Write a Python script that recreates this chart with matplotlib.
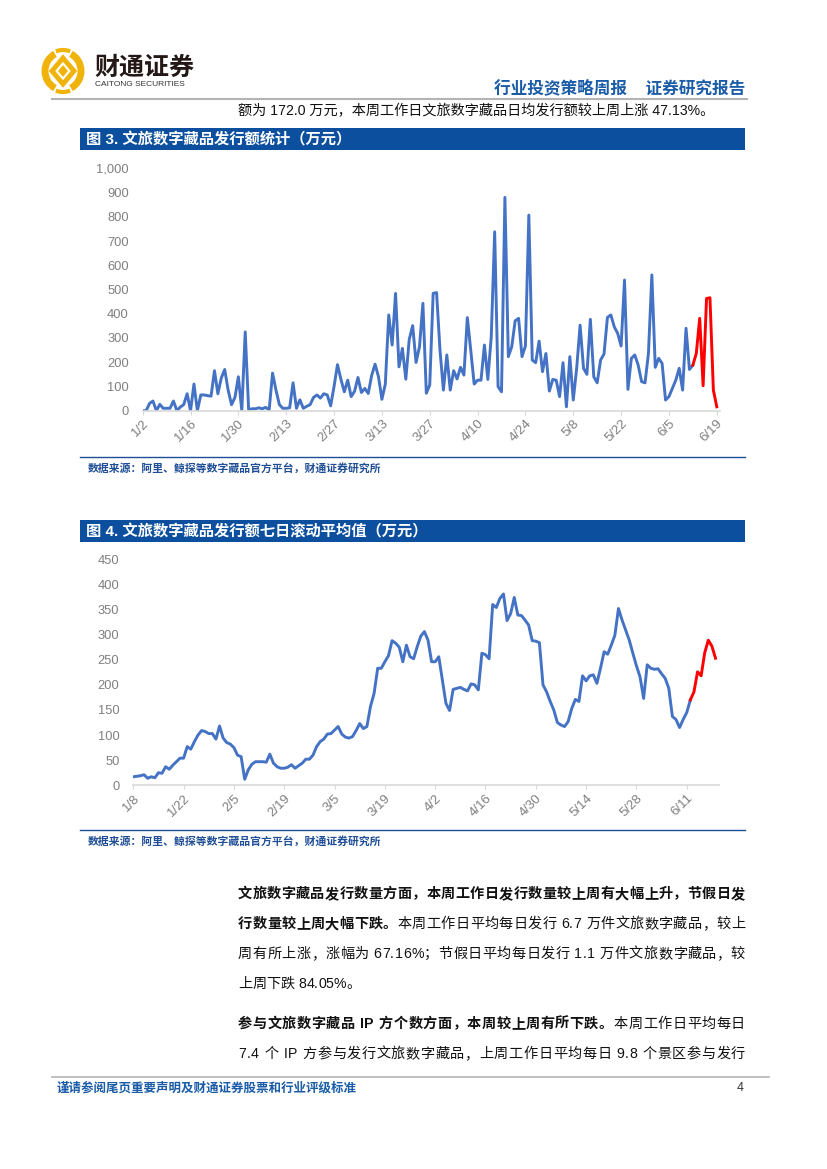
import numpy as np
import matplotlib
matplotlib.use('Agg')
import matplotlib.pyplot as plt
from matplotlib.patches import Rectangle, Arc, Polygon

plt.rcParams['font.family'] = ['Liberation Sans', 'Noto Sans CJK SC', 'DejaVu Sans']

# ------------------------------------------------------------
# Daten
# ------------------------------------------------------------
# Abb. 3: tägliches Emissionsvolumen (万元), 1/2 .. 6/19
issue = [0, 0, 30, 40, 0, 26, 10, 10, 10, 40,
         0, 15, 25, 70, 0, 110, 0, 65, 65, 62,
         60, 165, 70, 135, 170, 85, 25, 55, 140, 0,
         325, 5, 8, 8, 12, 8, 14, 2, 155, 85,
         25, 10, 10, 12, 115, 10, 45, 10, 18, 25,
         55, 65, 52, 70, 65, 20, 100, 190, 130, 78,
         126, 58, 80, 137, 75, 92, 71, 145, 192, 140,
         47, 110, 395, 271, 484, 181, 257, 130, 294, 351,
         199, 264, 443, 72, 106, 484, 487, 250, 85, 230,
         85, 165, 131, 179, 147, 384, 250, 110, 126, 126,
         271, 129, 305, 738, 99, 78, 880, 223, 264, 371,
         381, 223, 267, 807, 209, 198, 287, 161, 236, 81,
         129, 126, 58, 198, 16, 223, 44, 175, 353, 175,
         150, 377, 140, 115, 209, 234, 385, 395, 346, 319,
         267, 539, 88, 216, 230, 188, 120, 115, 236, 560,
         179, 216, 195, 44, 58, 92, 126, 175, 85, 340,
         170, 188, 236, 381, 103, 463, 466, 85, 16]
issue_week_start = 161          # ab 6/12 rot
issue_ticks = ['1/2', '1/16', '1/30', '2/13', '2/27', '3/13', '3/27',
               '4/10', '4/24', '5/8', '5/22', '6/5', '6/19']

# Abb. 4: 7-Tage gleitender Durchschnitt (万元), 1/8 .. 6/19
ma7 = [17, 18, 19, 21, 14, 17, 15, 25, 24, 37,
       32, 40, 47, 54, 54, 77, 72, 87, 100, 109,
       107, 103, 103, 92, 118, 94, 85, 82, 75, 60,
       57, 12, 31, 42, 47, 47, 47, 46, 62, 44,
       37, 34, 34, 36, 41, 34, 39, 44, 52, 52,
       60, 77, 87, 92, 102, 103, 110, 117, 102, 96,
       94, 97, 109, 123, 113, 117, 157, 183, 233, 233,
       246, 258, 288, 283, 275, 246, 279, 256, 252, 276,
       297, 306, 289, 246, 246, 256, 210, 163, 149, 191,
       193, 195, 191, 188, 202, 200, 190, 263, 260, 252,
       360, 354, 372, 381, 328, 342, 374, 339, 338, 329,
       319, 288, 287, 284, 200, 186, 167, 150, 125, 120,
       117, 127, 153, 171, 167, 218, 208, 218, 220, 203,
       233, 266, 261, 279, 299, 352, 329, 309, 289, 263,
       238, 216, 173, 240, 233, 231, 232, 222, 213, 193,
       137, 131, 115, 131, 145, 170, 186, 226, 218, 264,
       289, 277, 253]
ma7_week_start = 155
ma7_ticks = ['1/8', '1/22', '2/5', '2/19', '3/5', '3/19', '4/2',
             '4/16', '4/30', '5/14', '5/28', '6/11']

# ------------------------------------------------------------
# Seite
# ------------------------------------------------------------
W, H = 827, 1169
BLUE = '#4472C4'
BAR = '#0B4F9E'
NAVY = '#1F4E96'
GREY = '#7F7F7F'
TXT = 10.2

fig = plt.figure(figsize=(W / 100, H / 100), dpi=100)
ax0 = fig.add_axes([0, 0, 1, 1])
ax0.set_xlim(0, W)
ax0.set_ylim(H, 0)
ax0.axis('off')
r = fig.canvas.get_renderer()
inv = ax0.transData.inverted()


def box(x0, y0, x1, y1):
    return [x0 / W, 1 - y1 / H, (x1 - x0) / W, (y1 - y0) / H]


def char_w(ch, wt, size):
    if ch == ' ':
        return size * 100 / 72 * 0.28
    t = ax0.text(0, 0, ch, fontsize=size, fontweight=wt)
    bb = t.get_window_extent(renderer=r)
    t.remove()
    return bb.width


def line(x, y, parts, right=None, size=TXT):
    chars = [(c, wt) for txt, wt in parts for c in txt]
    ws = [char_w(c, wt, size) for c, wt in chars]
    gap = 0
    if right is not None and len(chars) > 1:
        gap = (right - x - sum(ws)) / (len(chars) - 1)
    for (c, wt), w in zip(chars, ws):
        if c != ' ':
            ax0.text(x, y, c, fontsize=size, fontweight=wt, va='center',
                     ha='left', color='#111111')
        x += w + gap


# Logo
gold = '#F0B30A'
cx, cy = 63, 71
ax0.add_patch(Arc((cx, cy), 36, 38, theta1=115, theta2=245, lw=5, color=gold))
ax0.add_patch(Arc((cx, cy), 36, 38, theta1=-65, theta2=65, lw=5, color=gold))
ax0.add_patch(Arc((cx, cy), 40, 42, theta1=70, theta2=110, lw=3, color=gold))
ax0.add_patch(Arc((cx, cy), 40, 42, theta1=250, theta2=290, lw=3, color=gold))
ax0.add_patch(Polygon([(cx, cy - 13), (cx + 11, cy), (cx, cy + 13), (cx - 11, cy)],
                      closed=True, fill=False, ec=gold, lw=3.5))
ax0.add_patch(Polygon([(cx, cy - 5), (cx + 4, cy), (cx, cy + 5), (cx - 4, cy)],
                      closed=True, fc=gold, ec=gold))
ax0.text(94, 68, '财通证券', fontsize=18, fontweight='bold', color='#231815',
         va='center', ha='left')
ax0.text(95, 84, 'CAITONG SECURITIES', fontsize=6, color='#333333',
         va='center', ha='left')

# Kopfzeile
ax0.text(745, 88, '行业投资策略周报    证券研究报告', fontsize=12, fontweight='bold',
         color='#1A5CA8', ha='right', va='center')
ax0.plot([52, 747], [99, 99], color='#B4B4B4', lw=1.5)

ax0.text(238, 111, '额为 172.0 万元，本周工作日文旅数字藏品日均发行额较上周上涨 47.13%。',
         fontsize=TXT, color='#111111', va='center', ha='left')

# Titelbalken + Quellen
for y0, title in [(128, '图 3. 文旅数字藏品发行额统计（万元）'),
                  (520, '图 4. 文旅数字藏品发行额七日滚动平均值（万元）')]:
    ax0.add_patch(Rectangle((80, y0), 665, 22, color=BAR, lw=0))
    ax0.text(86, y0 + 11.5, title, fontsize=11, fontweight='bold',
             color='white', va='center', ha='left')
for yl in [457, 830]:
    ax0.plot([80, 745], [yl, yl], color=NAVY, lw=1)
    ax0.text(88, yl + 11, '数据来源：阿里、鲸探等数字藏品官方平台，财通证券研究所',
             fontsize=7.8, fontweight='bold', color=NAVY, va='center', ha='left')


# ------------------------------------------------------------
# Diagramme
# ------------------------------------------------------------
def style(ax, ticks, labels):
    for s in ['top', 'right', 'left']:
        ax.spines[s].set_visible(False)
    ax.spines['bottom'].set_color('#D9D9D9')
    ax.spines['bottom'].set_linewidth(1.2)
    ax.patch.set_alpha(0)
    ax.set_xticks(ticks)
    ax.set_xticklabels(labels)
    ax.tick_params(axis='x', length=3, color='#D9D9D9', labelsize=9.5,
                   labelcolor=GREY, pad=2)
    ax.tick_params(axis='y', length=0, labelsize=9.3, labelcolor=GREY, pad=10)
    plt.setp(ax.get_xticklabels(), rotation=45, ha='right', rotation_mode='anchor')


# Abb. 3
ax1 = fig.add_axes(box(142.7, 168.3, 720.2, 410.7))
x1 = np.arange(len(issue))
k = issue_week_start
ax1.plot(x1[:k + 1], issue[:k + 1], color=BLUE, lw=2.1, solid_joinstyle='round')
ax1.plot(x1[k:], issue[k:], color='#FF0000', lw=2.1, solid_joinstyle='round')
ax1.set_xlim(0, 169)
ax1.set_ylim(0, 1000)
ax1.set_yticks(range(0, 1001, 100))
ax1.set_yticklabels([f'{v:,}' for v in range(0, 1001, 100)])
style(ax1, range(0, 169, 14), issue_ticks)

# Abb. 4
ax2 = fig.add_axes(box(133.3, 559.3, 719.1, 785.3))
x2 = np.arange(len(ma7))
k = ma7_week_start
ax2.plot(x2[:k + 1], ma7[:k + 1], color=BLUE, lw=2.1, solid_joinstyle='round')
ax2.plot(x2[k:], ma7[k:], color='#FF0000', lw=2.1, solid_joinstyle='round')
ax2.set_xlim(0, 163)
ax2.set_ylim(0, 450)
ax2.set_yticks(range(0, 451, 50))
style(ax2, range(0, 163, 14), ma7_ticks)

# ------------------------------------------------------------
# Fliesstext (Blocksatz bis x=745)
# ------------------------------------------------------------
B, N = 'bold', 'normal'
lines = [
    (894, [('文旅数字藏品发行数量方面，本周工作日发行数量较上周有大幅上升，节假日发', B)], True),
    (924, [('行数量较上周大幅下跌。', B), ('本周工作日平均每日发行 6.7 万件文旅数字藏品，较上', N)], True),
    (954, [('周有所上涨，涨幅为 67.16%；节假日平均每日发行 1.1 万件文旅数字藏品，较', N)], True),
    (984, [('上周下跌 84.05%。', N)], False),
    (1024, [('参与文旅数字藏品 IP 方个数方面，本周较上周有所下跌。', B), ('本周工作日平均每日', N)], True),
    (1054, [('7.4 个 IP 方参与发行文旅数字藏品，上周工作日平均每日 9.8 个景区参与发行', N)], True),
]
for y, parts, just in lines:
    line(238, y, parts, right=745 if just else None)

# Fusszeile
ax0.plot([52, 769], [1077, 1077], color='#B4B4B4', lw=1.2)
ax0.text(57, 1088, '谨请参阅尾页重要声明及财通证券股票和行业评级标准', fontsize=9,
         fontweight='bold', color='#1A5CA8', va='center', ha='left')
ax0.text(744, 1088, '4', fontsize=9, color='#333333', va='center', ha='right')

fig.savefig('out.png', dpi=100)
